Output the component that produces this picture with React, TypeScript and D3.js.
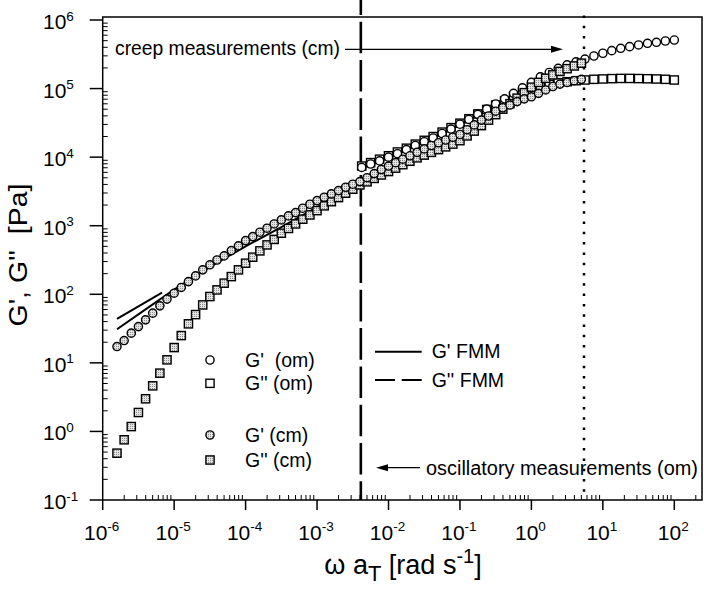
import React from 'react';
import * as d3 from 'd3';

// ---- data (log10 values) ----
const xTickExps = [-6, -5, -4, -3, -2, -1, 0, 1, 2];
const yTickExps = [-1, 0, 1, 2, 3, 4, 5, 6];

// creep measurements (cm)
const cmLogW = [-5.8, -5.7, -5.6, -5.5, -5.4, -5.3, -5.2, -5.1, -5.0, -4.9, -4.8, -4.7, -4.6, -4.5, -4.4, -4.3, -4.2, -4.1, -4.0, -3.9, -3.8, -3.7, -3.6, -3.5, -3.4, -3.3, -3.2, -3.1, -3.0, -2.9, -2.8, -2.7, -2.6, -2.5, -2.4, -2.3, -2.2, -2.1, -2.0, -1.9, -1.8, -1.7, -1.6, -1.5, -1.4, -1.3, -1.2, -1.1, -1.0, -0.9, -0.8, -0.7, -0.6, -0.5, -0.4, -0.3, -0.2, -0.1, 0, 0.1, 0.2, 0.3, 0.4, 0.5, 0.6, 0.7];
const cmLogGp = [1.238, 1.325, 1.433, 1.529, 1.627, 1.725, 1.831, 1.93, 2.016, 2.10, 2.185, 2.268, 2.356, 2.43, 2.50, 2.56, 2.637, 2.706, 2.783, 2.841, 2.905, 2.964, 3.026, 3.085, 3.143, 3.191, 3.255, 3.313, 3.366, 3.415, 3.464, 3.512, 3.561, 3.605, 3.643,
  3.70, 3.76, 3.82, 3.87, 3.92, 3.97, 4.02, 4.07, 4.12, 4.17, 4.21, 4.25, 4.29, 4.33, 4.40, 4.47, 4.54, 4.60, 4.67, 4.72, 4.76, 4.81, 4.85, 4.88, 4.93, 4.98, 5.03, 5.065, 5.09, 5.115, 5.135];
const cmLogGpp = [-0.317, -0.122, 0.071, 0.276, 0.476, 0.665, 0.85, 1.044, 1.223, 1.398, 1.569, 1.704, 1.845, 1.967, 2.064, 2.162, 2.258, 2.356, 2.453, 2.541, 2.633, 2.72, 2.80, 2.89, 2.96, 3.026, 3.095, 3.157, 3.22, 3.29, 3.35, 3.41, 3.474, 3.532, 3.595,
  3.64, 3.69, 3.74, 3.79, 3.84, 3.89, 3.94, 3.99, 4.03, 4.07, 4.11, 4.15, 4.19, 4.24, 4.31, 4.38, 4.46, 4.54, 4.62, 4.70, 4.78, 4.86, 4.94, 5.02, 5.09, 5.15, 5.2, 5.25, 5.29, 5.33, 5.37];

// oscillatory measurements (om)
const omLogW = [-2.375, -2.25, -2.125, -2.0, -1.875, -1.75, -1.625, -1.5, -1.375, -1.25, -1.125, -1.0, -0.875, -0.75, -0.625, -0.5, -0.375, -0.25, -0.125, 0, 0.125, 0.25, 0.375, 0.5, 0.625, 0.75, 0.875, 1.0, 1.125, 1.25, 1.375, 1.5, 1.625, 1.75, 1.875, 2.0];
const omLogGp = [3.85, 3.90, 3.945, 4.00, 4.05, 4.11, 4.17, 4.225, 4.28, 4.345, 4.41, 4.48, 4.55, 4.625, 4.70, 4.775, 4.85, 4.93, 5.01, 5.09, 5.17, 5.235, 5.295, 5.345, 5.39, 5.43, 5.475, 5.515, 5.553, 5.587, 5.611, 5.636, 5.66, 5.675, 5.694, 5.708];
const omLogGpp = [3.87, 3.92, 3.97, 4.02, 4.075, 4.13, 4.19, 4.245, 4.30, 4.365, 4.43, 4.495, 4.56, 4.63, 4.695, 4.76, 4.82, 4.88, 4.935, 4.985, 5.025, 5.06, 5.085, 5.10, 5.115, 5.125, 5.135, 5.14, 5.145, 5.148, 5.148, 5.146, 5.143, 5.14, 5.135, 5.125];

// FMM fit lines
const fmmLogW = [-5.8, -5.4, -5.0, -4.5, -4.0, -3.5, -3.0, -2.7, -2.4];
const fmmLogG = [1.49, 1.78, 2.07, 2.40, 2.70, 2.98, 3.27, 3.43, 3.62];
const fmmShortLogW = [-5.8, -5.17];
const fmmShortLogG = [1.64, 2.025];

const creepLimit = 4.1e-3; // dashed vertical line
const oscLimit = 5.5; // dotted vertical line

const legendMarkers = ["G'  (om)", "G'' (om)", "G' (cm)", "G'' (cm)"];
const legendLines = ["G' FMM", "G'' FMM"];

const FONT = "'Liberation Sans', Arial, Helvetica, sans-serif";
const GRAY = 'url(#halftone)';

export default function App() {
  const W = 704, H = 600;
  const left = 102.7, right = 702, top = 17, bottom = 500;
  const x = d3.scaleLog().domain([1e-6, 1e2]).range([102.7, 674.3]);
  const y = d3.scaleLog().domain([1e-1, 1e6]).range([500, 20]);
  const px = (lw: number) => x(Math.pow(10, lw));
  const py = (lg: number) => y(Math.pow(10, lg));
  const line = d3.line<number[]>().x(d => d[0]).y(d => d[1]);

  const r = 4.1;
  const circle = (cx: number, cy: number, fill: string, key: string) => (
    <circle key={key} cx={cx} cy={cy} r={r} fill={fill} stroke="#000" strokeWidth={1.4} />
  );
  const square = (cx: number, cy: number, fill: string, key: string) => (
    <rect key={key} x={cx - r} y={cy - r} width={2 * r} height={2 * r} fill={fill} stroke="#000" strokeWidth={1.4} />
  );

  const yMinor: number[] = [];
  for (let e = -1; e < 6; e++) for (let m = 2; m <= 9; m++) yMinor.push(m * Math.pow(10, e));
  const xMinor: number[] = [];
  for (let e = -6; e <= 2; e++) for (let m = 2; m <= 9; m++) {
    const v = m * Math.pow(10, e);
    if (x(v) < right - 1) xMinor.push(v);
  }

  const fmmPts = fmmLogW.map((w, i) => [px(w), py(fmmLogG[i])]);
  const fmmShortPts = fmmShortLogW.map((w, i) => [px(w), py(fmmShortLogG[i])]);

  const legX = 210, legTextX = 245;
  const legY = [360, 383.3, 435, 460];
  const dotX = Math.round(x(oscLimit));

  return (
    <svg width={W} height={H} style={{ position: 'absolute', left: 0, top: 0, background: '#fff' }} fontFamily={FONT}>
      <defs>
        <pattern id="halftone" patternUnits="userSpaceOnUse" width={2} height={2}>
          <rect x={0} y={0} width={2} height={2} fill="#e4e4e4" />
          <rect x={0} y={0} width={1} height={1} fill="#8c8c8c" />
        </pattern>
      </defs>
      <rect x={0} y={0} width={W} height={H} fill="#fff" />
      {/* frame */}
      <rect x={left} y={top} width={right - left} height={bottom - top} fill="none" stroke="#000" strokeWidth={1.5} />

      {/* y ticks */}
      {yTickExps.map(e => (
        <g key={'yt' + e}>
          <line x1={left - 13} x2={left} y1={y(Math.pow(10, e))} y2={y(Math.pow(10, e))} stroke="#000" strokeWidth={1.5} />
          <text x={43} y={y(Math.pow(10, e)) + 9} fontSize={21}>
            10<tspan dy={-8.5} fontSize={13.5}>{e < 0 ? '-' + Math.abs(e) : String(e)}</tspan>
          </text>
        </g>
      ))}
      {yMinor.map((v, i) => (
        <line key={'ym' + i} x1={left} x2={left + 5} y1={y(v)} y2={y(v)} stroke="#000" strokeWidth={1} />
      ))}

      {/* x ticks */}
      {xTickExps.map(e => (
        <g key={'xt' + e}>
          <line x1={x(Math.pow(10, e))} x2={x(Math.pow(10, e))} y1={bottom} y2={bottom + 10} stroke="#000" strokeWidth={1.5} />
          <text x={x(Math.pow(10, e)) - 1} y={539.5} fontSize={21} textAnchor="middle">
            10<tspan dy={-8.5} fontSize={13.5}>{e < 0 ? '-' + Math.abs(e) : String(e)}</tspan>
          </text>
        </g>
      ))}
      {xMinor.map((v, i) => (
        <line key={'xm' + i} x1={x(v)} x2={x(v)} y1={bottom} y2={bottom - 5} stroke="#000" strokeWidth={1} />
      ))}

      {/* vertical reference lines */}
      <line x1={x(creepLimit)} x2={x(creepLimit)} y1={0} y2={bottom} stroke="#000" strokeWidth={2.6}
        strokeDasharray="31.6 6.7" strokeDashoffset={16.6} />
      <line x1={dotX} x2={dotX} y1={15.5} y2={bottom} stroke="#000" strokeWidth={2.5}
        strokeDasharray="2.5 7.8" />

      {/* FMM lines */}
      <path d={line(fmmPts as any) || ''} fill="none" stroke="#000" strokeWidth={2} />
      <path d={line(fmmShortPts as any) || ''} fill="none" stroke="#000" strokeWidth={2} />

      {/* om data */}
      {omLogW.map((w, i) => square(px(w), py(omLogGpp[i]), '#fff', 'os' + i))}
      {omLogW.map((w, i) => circle(px(w), py(omLogGp[i]), '#fff', 'oc' + i))}
      {/* cm data */}
      {cmLogW.map((w, i) => square(px(w), py(cmLogGpp[i]), GRAY, 'cs' + i))}
      {cmLogW.map((w, i) => circle(px(w), py(cmLogGp[i]), GRAY, 'cc' + i))}

      {/* annotations */}
      <text x={115} y={55} fontSize={20} textLength={225} lengthAdjust="spacingAndGlyphs">creep measurements (cm)</text>
      <line x1={345} x2={555} y1={49.3} y2={49.3} stroke="#000" strokeWidth={1.2} />
      <path d="M563,49.3 L551,45.8 L551,52.8 Z" fill="#000" />

      <text x={426} y={475} fontSize={20} textLength={272} lengthAdjust="spacingAndGlyphs">oscillatory measurements (om)</text>
      <line x1={384} x2={420} y1={467.7} y2={467.7} stroke="#000" strokeWidth={1.2} />
      <path d="M376,467.7 L388,464.2 L388,471.2 Z" fill="#000" />

      {/* legend: markers */}
      {circle(legX, legY[0], '#fff', 'l0')}
      {square(legX, legY[1], '#fff', 'l1')}
      {circle(legX, legY[2], GRAY, 'l2')}
      {square(legX, legY[3], GRAY, 'l3')}
      {legendMarkers.map((t, i) => (
        <text key={'lt' + i} x={legTextX} y={legY[i] + 6.5} fontSize={19.5} style={{ whiteSpace: 'pre' }}>{t}</text>
      ))}

      {/* legend: lines */}
      <line x1={375} x2={421.7} y1={351.7} y2={351.7} stroke="#000" strokeWidth={2} />
      <line x1={375} x2={421.7} y1={380} y2={380} stroke="#000" strokeWidth={2} strokeDasharray="20 6.7" />
      {legendLines.map((t, i) => (
        <text key={'ll' + i} x={431.7} y={[351.7, 380][i] + 6.5} fontSize={19.5}>{t}</text>
      ))}

      {/* axis titles */}
      <text x={403} y={574} fontSize={27} textAnchor="middle">
        ω a<tspan dy={7} fontSize={22}>T</tspan><tspan dy={-7} fontSize={27}> [rad s</tspan><tspan dy={-11} fontSize={20}>-1</tspan><tspan dy={11} fontSize={27}>]</tspan>
      </text>
      <text transform="translate(27,255) rotate(-90)" fontSize={26} textAnchor="middle"
        textLength={143} lengthAdjust="spacingAndGlyphs" style={{ whiteSpace: 'pre' }}>G', G''  [Pa]</text>
    </svg>
  );
}
